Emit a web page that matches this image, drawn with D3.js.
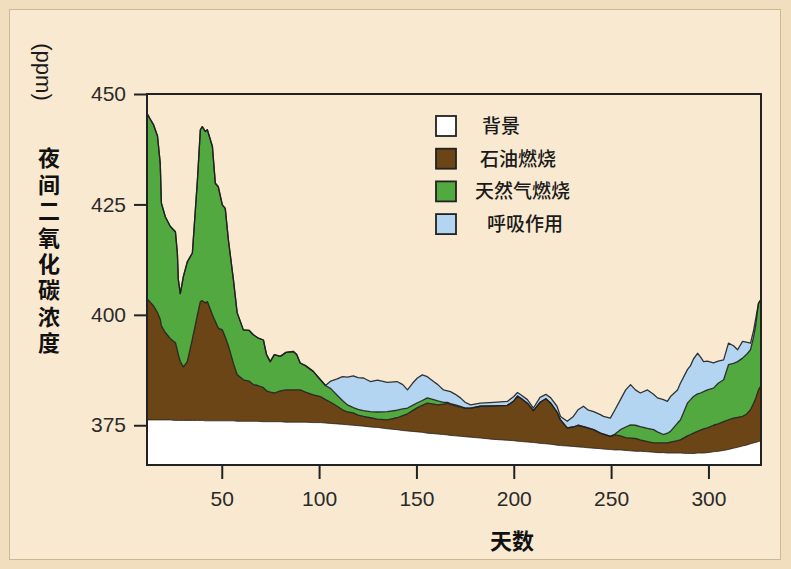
<!DOCTYPE html>
<html>
<head>
<meta charset="utf-8">
<script src="https://cdn.jsdelivr.net/npm/d3@7"></script>
<style>
  html, body { margin: 0; padding: 0; background: #f1debf; }
  svg { display: block; }
</style>
</head>
<body>
<svg id="chart" width="791" height="569"></svg>
<script>
// Day of year for each sample
const days = [11.6, 13, 15, 17, 18.4, 19, 21, 23.6, 26.2, 27.2, 27.7, 28.7, 30.3, 32.3, 34.9, 37.5, 39, 40, 41.6, 42.6,
  45.2, 46.7, 48.2, 50.3, 51.8, 53.4, 56, 57.9, 61.1, 64, 66.2, 68.5, 71.4, 73, 74.9, 77, 80.1, 83, 86.8, 88.5,
  90.3, 93, 97, 100.7, 103.3, 106, 109.3, 112, 114.6, 117.6, 120, 122.8, 126.3, 130, 135, 140, 143, 145.4, 148, 150.5,
  153, 155.6, 158.8, 161, 163.9, 165.9, 167.5, 170, 172.6, 175, 177.8, 182.8, 189.6, 196.7, 200, 201.9, 204, 207, 210.1, 213.5,
  216.5, 219, 222.2, 224, 227.5, 230.6, 233, 235.8, 238, 241, 244.5, 246.1, 249.6, 252, 254.8, 257.5, 260, 262.5, 265, 268.7,
  271.8, 273.8, 276.9, 278.9, 280.5, 284.1, 285.6, 289.2, 290.8, 292.3, 294.4, 295.9, 297.5, 299.5, 302.6, 305, 307.8, 310.3, 312.9, 315,
  317.5, 319.5, 321.6, 323.2, 324.2, 325.7, 327];

// Background CO2 level (ppm)
const backgroundLevel = [376.2, 376.2, 376.2, 376.2, 376.2, 376.2, 376.2, 376.2, 376.1, 376.1, 376.1, 376.1, 376.1, 376.1, 376.1, 376.1, 376.1, 376.1, 376.0, 376.0,
  376.0, 376.0, 376.0, 376.0, 376.0, 376.0, 376.0, 375.9, 375.9, 375.9, 375.9, 375.9, 375.8, 375.8, 375.8, 375.8, 375.8, 375.7, 375.7, 375.7,
  375.7, 375.7, 375.6, 375.6, 375.5, 375.4, 375.3, 375.2, 375.1, 375.0, 374.9, 374.8, 374.6, 374.5, 374.2, 374.0, 373.8, 373.7, 373.6, 373.5,
  373.4, 373.2, 373.1, 373.0, 372.9, 372.8, 372.7, 372.6, 372.5, 372.4, 372.3, 372.1, 371.8, 371.6, 371.5, 371.4, 371.3, 371.2, 371.1, 370.9,
  370.8, 370.7, 370.5, 370.4, 370.3, 370.2, 370.1, 370.0, 369.9, 369.8, 369.7, 369.6, 369.5, 369.4, 369.4, 369.3, 369.2, 369.1, 369.1, 369.0,
  368.9, 368.8, 368.8, 368.7, 368.7, 368.7, 368.7, 368.6, 368.6, 368.6, 368.7, 368.7, 368.7, 368.8, 369.0, 369.1, 369.3, 369.5, 369.8, 370.0,
  370.3, 370.5, 370.8, 371.0, 371.1, 371.3, 371.5];

// Level after adding oil combustion (ppm)
const oilLevel = [403.6, 403.0, 402.0, 400.5, 399.0, 397.5, 396.0, 394.6, 393.7, 392.0, 391.0, 389.5, 388.2, 389.4, 394.5, 400.0, 403.0, 403.2, 402.7, 403.0,
  400.0, 398.5, 397.0, 396.6, 395.0, 393.0, 389.0, 386.5, 385.3, 385.0, 384.2, 384.0, 383.5, 382.8, 382.5, 382.3, 382.8, 383.0, 383.0, 383.0,
  383.0, 382.5, 381.9, 381.5, 380.8, 380.2, 379.3, 378.5, 378.0, 377.8, 377.3, 377.0, 376.7, 376.4, 376.2, 376.7, 377.2, 377.6, 378.3, 379.0,
  379.5, 380.0, 379.8, 379.6, 379.8, 380.0, 379.7, 379.4, 379.1, 378.9, 378.9, 379.3, 379.4, 379.5, 380.5, 381.6, 381.0, 380.0, 378.3, 380.2,
  381.0, 380.0, 378.0, 376.2, 374.4, 374.6, 375.0, 374.7, 374.4, 374.0, 373.2, 373.0, 372.5, 372.8, 372.6, 372.2, 372.1, 372.0, 371.7, 371.3,
  371.0, 371.0, 371.0, 371.0, 371.2, 371.5, 371.7, 372.6, 372.9, 373.2, 373.6, 373.9, 374.2, 374.4, 375.0, 375.3, 375.8, 376.2, 376.6, 376.8,
  377.0, 377.5, 378.5, 380.0, 381.0, 383.0, 384.0];

// Level after adding natural gas combustion (ppm)
const gasLevel = [445.6, 444.5, 443.0, 440.5, 434.3, 425.3, 422.2, 420.0, 418.8, 414.0, 408.0, 404.8, 408.7, 412.0, 414.0, 430.5, 441.9, 442.6, 441.5, 441.9,
  438.1, 429.8, 429.0, 424.9, 424.1, 417.0, 407.9, 400.5, 396.6, 396.5, 395.5, 394.8, 394.3, 391.0, 389.4, 391.0, 390.6, 391.5, 391.7, 391.0,
  389.1, 388.5, 387.2, 385.3, 384.0, 383.3, 381.8, 380.6, 379.6, 379.0, 378.6, 378.3, 378.1, 378.0, 378.1, 378.4, 378.7, 378.9, 379.5, 380.1,
  380.6, 381.2, 380.8, 380.5, 380.2, 380.2, 379.9, 379.6, 379.3, 378.9, 378.9, 379.3, 379.4, 379.5, 380.5, 381.6, 381.0, 380.0, 378.3, 380.2,
  381.0, 380.0, 378.0, 376.2, 374.4, 374.6, 375.0, 374.7, 374.4, 374.0, 373.2, 373.0, 372.5, 373.0, 374.0, 374.6, 375.1, 375.0, 374.7, 374.3,
  374.0, 373.5, 372.9, 373.2, 373.6, 375.5, 376.2, 380.0, 380.8, 381.5, 382.1, 382.3, 382.6, 383.0, 383.4, 384.5, 385.3, 388.7, 389.0, 389.4,
  390.2, 391.0, 392.1, 395.0, 397.4, 402.6, 403.5];

// Level after adding respiration (ppm)
const respirationLevel = [445.6, 444.5, 443.0, 440.5, 434.3, 425.3, 422.2, 420.0, 418.8, 414.0, 408.0, 404.8, 408.7, 412.0, 414.0, 430.5, 441.9, 442.6, 441.5, 441.9,
  438.1, 429.8, 429.0, 424.9, 424.1, 417.0, 407.9, 400.5, 396.6, 396.5, 395.5, 394.8, 394.3, 391.0, 389.4, 391.0, 390.6, 391.5, 391.7, 391.0,
  389.1, 388.5, 387.2, 385.3, 384.0, 385.0, 385.5, 386.0, 385.9, 386.2, 385.8, 385.7, 384.9, 385.2, 384.7, 384.9, 384.2, 383.0, 384.5, 385.7,
  386.4, 386.0, 384.9, 384.2, 383.0, 382.8, 382.6, 382.0, 381.2, 380.2, 379.6, 380.0, 380.2, 380.4, 381.5, 382.4, 381.8, 380.8, 378.9, 381.3,
  382.0, 381.2, 379.3, 377.0, 375.9, 377.0, 378.5, 379.3, 378.5, 378.1, 377.4, 377.0, 376.6, 378.5, 380.8, 383.0, 384.2, 383.0, 382.3, 383.0,
  382.0, 381.2, 380.8, 380.4, 381.5, 383.0, 384.5, 387.6, 388.5, 390.0, 391.3, 390.5, 389.4, 389.5, 389.1, 389.5, 389.8, 393.6, 393.0, 392.1,
  394.0, 393.8, 393.6, 396.5, 398.9, 402.6, 403.5];

const xTicks = [50, 100, 150, 200, 250, 300];
const yTicks = [375, 400, 425, 450];

const legendLabels = ["背景", "石油燃烧", "天然气燃烧", "呼吸作用"];
const layerColors = ["#ffffff", "#6b4515", "#52a93f", "#b3d5f1"];

const svg = d3.select("#chart");

// Page backdrop with inner panel
svg.append("rect").attr("x", 0).attr("y", 0).attr("width", 791).attr("height", 569).attr("fill", "#f1debf");
svg.append("rect").attr("x", 9.5).attr("y", 9.5).attr("width", 771).attr("height", 550)
  .attr("fill", "#f9e9d1").attr("stroke", "#cdb795").attr("stroke-width", 1);

const x = d3.scaleLinear().domain([11.6, 327]).range([147, 761]);
const y = d3.scaleLinear().domain([366, 450]).range([465, 94]);

const levels = [backgroundLevel, oilLevel, gasLevel, respirationLevel];
const idx = d3.range(days.length);

svg.append("clipPath").attr("id", "plot-clip")
  .append("rect").attr("x", 147).attr("y", 94).attr("width", 614).attr("height", 371);

const plot = svg.append("g").attr("clip-path", "url(#plot-clip)");

// Filled bands: each source sits between the previous level and its own level
levels.forEach((lvl, k) => {
  const area = d3.area()
    .x(i => x(days[i]))
    .y0(i => k === 0 ? y(366) : y(levels[k - 1][i]))
    .y1(i => y(lvl[i]));
  plot.append("path").datum(idx).attr("d", area).attr("fill", layerColors[k]);
});

// Dark outline along the top of each band
levels.forEach((lvl, k) => {
  const line = d3.line().x(i => x(days[i])).y(i => y(lvl[i]));
  plot.append("path").datum(idx).attr("d", line)
    .attr("fill", "none")
    .attr("stroke", "#1f1f1f")
    .attr("stroke-width", k === 0 ? 1 : 1.3)
    .attr("stroke-opacity", k === 0 ? 0.75 : 0.9)
    .attr("stroke-linejoin", "round");
});

// Plot frame
svg.append("rect").attr("x", 147).attr("y", 94).attr("width", 614).attr("height", 371)
  .attr("fill", "none").attr("stroke", "#222").attr("stroke-width", 2);

// Axes
const yAxis = svg.append("g").attr("transform", "translate(147,0)")
  .call(d3.axisLeft(y).tickValues(yTicks).tickSize(13).tickPadding(8));
const xAxis = svg.append("g").attr("transform", "translate(0,465)")
  .call(d3.axisBottom(x).tickValues(xTicks).tickSize(14).tickPadding(12));
[yAxis, xAxis].forEach(g => {
  g.select(".domain").remove();
  g.selectAll(".tick line").attr("stroke", "#222").attr("stroke-width", 2);
  g.selectAll(".tick text")
    .attr("fill", "#2a2a2a")
    .style("font-family", "'Liberation Sans', Arial, sans-serif")
    .style("font-size", "21px");
});

// Axis titles
svg.append("text")
  .attr("transform", "translate(36,72) rotate(90)")
  .attr("text-anchor", "middle")
  .attr("fill", "#1a1a1a")
  .style("font-family", "'Liberation Sans', Arial, sans-serif")
  .style("font-size", "22px")
  .text("(ppm)");

// Vertical title, one upright character per step
svg.append("text")
  .attr("x", 49).attr("y", 147)
  .attr("fill", "#111")
  .style("font-family", "'Noto Sans CJK SC', sans-serif")
  .style("font-size", "22px")
  .style("font-weight", "bold")
  .style("writing-mode", "vertical-rl")
  .style("text-orientation", "upright")
  .style("letter-spacing", "4.4px")
  .text("夜间二氧化碳浓度");

svg.append("text")
  .attr("x", 512).attr("y", 549)
  .attr("text-anchor", "middle")
  .attr("fill", "#111")
  .style("font-family", "'Noto Sans CJK SC', sans-serif")
  .style("font-size", "22px")
  .style("font-weight", "bold")
  .text("天数");

// Legend
const legend = svg.append("g");
const legendX = [482, 480, 475, 487];
legendLabels.forEach((lab, i) => {
  const cy = 126 + i * 32.7;
  legend.append("rect")
    .attr("x", 436).attr("y", cy - 10).attr("width", 20).attr("height", 20)
    .attr("fill", layerColors[i]).attr("stroke", "#222").attr("stroke-width", 1.8);
  legend.append("text")
    .attr("x", legendX[i]).attr("y", cy + 7)
    .attr("fill", "#1a1a1a")
    .style("font-family", "'Noto Sans CJK SC', sans-serif")
    .style("font-size", "19px")
    .style("font-weight", "500")
    .text(lab);
});
</script>
</body>
</html>
